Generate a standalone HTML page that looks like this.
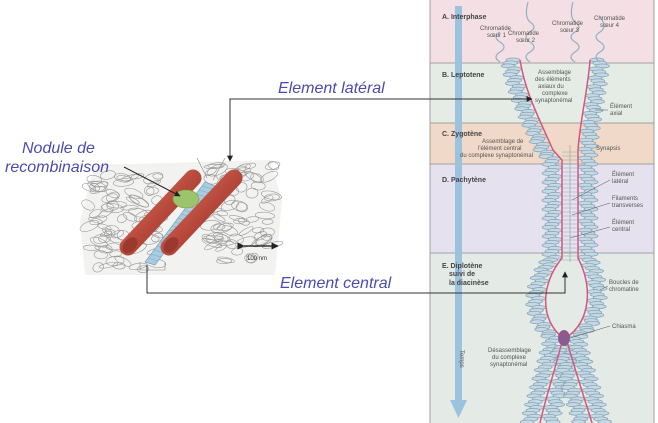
<!DOCTYPE html>
<html><head><meta charset="utf-8"><style>
html,body{margin:0;padding:0;background:#fff;}
svg{display:block;font-family:"Liberation Sans",sans-serif;}
.lb{font-style:italic;fill:#4b4bb0;font-size:16px;}
.s{fill:#555;font-size:6px;}
.h{fill:#444;font-size:7px;font-weight:bold;}
</style></head><body>
<svg id="sv" width="658" height="423" viewBox="0 0 658 423" xmlns="http://www.w3.org/2000/svg">
<defs>
<marker id="ar" viewBox="0 0 10 10" refX="9" refY="5" markerWidth="6" markerHeight="6" orient="auto"><path d="M0,0L10,5L0,10z" fill="#222"/></marker>
<linearGradient id="cyl" x1="0" y1="0" x2="1" y2="1"><stop offset="0" stop-color="#d87a68"/><stop offset="0.5" stop-color="#b84a3c"/><stop offset="1" stop-color="#8e3228"/></linearGradient>
</defs>
<rect x="430" y="0" width="224" height="63" fill="#f3dfe4"/>
<rect x="430" y="63" width="224" height="60" fill="#e5ece6"/>
<rect x="430" y="123" width="224" height="41" fill="#f0d9c8"/>
<rect x="430" y="164" width="224" height="89" fill="#e6e1ee"/>
<rect x="430" y="253" width="224" height="170" fill="#e4eae6"/>
<g stroke="#8c8c8c" stroke-width="0.8"><line x1="430" y1="63" x2="654" y2="63"/><line x1="430" y1="123" x2="654" y2="123"/><line x1="430" y1="164" x2="654" y2="164"/><line x1="430" y1="253" x2="654" y2="253"/><line x1="430" y1="0" x2="430" y2="423"/><line x1="654" y1="0" x2="654" y2="423"/></g>
<rect x="455" y="6" width="7" height="400" fill="#9cc3de"/>
<path d="M450,400L467,400L458.5,418z" fill="#9cc3de"/>
<text x="0" y="0" transform="translate(460,350) rotate(90)" class="s">Temps</text>
<g id="chrom" fill="#c6d8e2" stroke="#7fa3b8" stroke-width="0.7"></g>
<g fill="none">
<g stroke="#d9557a" stroke-width="1.5">
<path id="L" d="M520,60 C525,90 535,110 553,150 L562,160 L562,258 C540,285 540,320 563,338 C555,370 545,400 540,423"/>
<path id="R" d="M590,60 C588,90 580,120 578,150 L578,258 C592,285 592,320 566,338 C575,370 585,400 592,423"/>
</g>
<line x1="570" y1="145" x2="570" y2="262" stroke="#999" stroke-width="0.6"/>
</g>
<g stroke="#8aa" stroke-width="0.5" id="rungs"></g>
<ellipse cx="564" cy="338" rx="6" ry="8" fill="#8c5a8e"/>
<g fill="none" stroke="#8fb0c4" stroke-width="1.2">
<path d="M500,62 q-8,-5 0,-10 q8,-5 0,-10 q-8,-5 0,-10"/>
<path d="M530,62 q-8,-5 0,-10 q8,-5 0,-10 q-8,-5 0,-10 q8,-5 0,-10 q-6,-5 -2,-20"/>
<path d="M575,62 q-8,-5 0,-10 q8,-5 0,-10 q-8,-5 0,-10 q8,-5 0,-10 q-6,-5 -2,-20"/>
<path d="M600,62 q-8,-5 0,-10 q8,-5 0,-10 q-8,-5 0,-10 q8,-5 0,-15"/>
</g>
<text x="442" y="19" class="h">A. Interphase</text>
<text x="480" y="30" class="s">Chromatide</text><text x="487" y="37" class="s">sœur 1</text>
<text x="508" y="35" class="s">Chromatide</text><text x="516" y="42" class="s">sœur 2</text>
<text x="552" y="25" class="s">Chromatide</text><text x="560" y="32" class="s">sœur 3</text>
<text x="594" y="20" class="s">Chromatide</text><text x="600" y="27" class="s">sœur 4</text>
<text x="442" y="77" class="h">B. Leptotene</text>
<text x="538" y="74" class="s">Assemblage</text><text x="535" y="81" class="s">des éléments</text><text x="538" y="88" class="s">axiaux du</text><text x="542" y="95" class="s">complexe</text><text x="535" y="102" class="s">synaptonémal</text>
<text x="610" y="108" class="s">Élément</text><text x="610" y="115" class="s">axial</text>
<text x="442" y="136" class="h">C. Zygotène</text>
<text x="482" y="143" class="s">Assemblage de</text><text x="478" y="150" class="s">l'élément central</text><text x="460" y="157" class="s">du complexe synaptonémal</text>
<text x="596" y="150" class="s">Synapsis</text>
<text x="442" y="182" class="h">D. Pachytène</text>
<text x="612" y="176" class="s">Élément</text><text x="612" y="183" class="s">latéral</text>
<text x="612" y="200" class="s">Filaments</text><text x="612" y="207" class="s">transverses</text>
<text x="612" y="224" class="s">Élément</text><text x="612" y="231" class="s">central</text>
<text x="442" y="268" class="h">E. Diplotène</text><text x="449" y="276" class="h">suivi de</text><text x="449" y="285" class="h">la diacinèse</text>
<text x="609" y="284" class="s">Boucles de</text><text x="609" y="291" class="s">chromatine</text>
<text x="612" y="328" class="s">Chiasma</text>
<text x="488" y="352" class="s">Désassemblage</text><text x="492" y="359" class="s">du complexe</text><text x="490" y="366" class="s">synaptonémal</text>
<g stroke="#555" stroke-width="0.5"><line x1="572" y1="200" x2="610" y2="180"/><line x1="572" y1="215" x2="610" y2="203"/><line x1="570" y1="238" x2="610" y2="227"/><line x1="600" y1="290" x2="608" y2="286"/><line x1="570" y1="338" x2="610" y2="326"/><line x1="595" y1="110" x2="608" y2="110"/></g>
<path d="M95,165 L270,160 L282,200 L275,275 L85,275 L80,220z" fill="#f2f2f0"/>
<g id="loops" fill="none" stroke="#999" stroke-width="0.6"></g>
<path d="M145,262 L205,182 L215,186 L155,265z" fill="#a9cde0" stroke="#6f9ab4" stroke-width="0.6"/>
<g stroke="#6f9ab4" stroke-width="0.4" id="bars"></g>
<line x1="128" y1="247" x2="193" y2="178" stroke="url(#cyl)" stroke-width="17" stroke-linecap="round"/>
<ellipse cx="130" cy="245" rx="6" ry="9" fill="#9a3a2e" transform="rotate(40 130 245)"/>
<ellipse cx="186" cy="199" rx="13" ry="9" fill="#9cc46a" stroke="#7da24a" stroke-width="0.6"/>
<line x1="169" y1="247" x2="234" y2="178" stroke="url(#cyl)" stroke-width="17" stroke-linecap="round"/>
<ellipse cx="171" cy="245" rx="6" ry="9" fill="#9a3a2e" transform="rotate(40 171 245)"/>
<path d="M140,262 L140,270 L165,270 L165,262" fill="none" stroke="#888" stroke-width="0.6"/>
<g stroke="#888" stroke-width="0.6"><line x1="197" y1="158" x2="207" y2="178"/><line x1="225" y1="158" x2="213" y2="180"/></g>
<line x1="244" y1="246" x2="278" y2="246" stroke="#111" stroke-width="1.2" marker-end="url(#ar)" marker-start="url(#ar)"/>
<text x="247" y="260" style="font-size:6px;fill:#333">100 nm</text>
<text x="278" y="93" class="lb">Element latéral</text>
<path d="M230,160 L230,99 L530,99" fill="none" stroke="#333" stroke-width="1"/>
<path d="M530,99 L532,99" stroke="#333" marker-end="url(#ar)"/>
<path d="M230,150 L230,161" stroke="#333" marker-end="url(#ar)"/>
<text x="280" y="288" class="lb">Element central</text>
<path d="M147,265 L147,293 L565,293 L565,272" fill="none" stroke="#333" stroke-width="1" marker-end="url(#ar)"/>
<text x="22" y="153" class="lb">Nodule de</text>
<text x="5" y="172" class="lb">recombinaison</text>
<path d="M124,167 L180,196" stroke="#222" stroke-width="1" marker-end="url(#ar)"/>
</svg>
<script>
var ns="http://www.w3.org/2000/svg";
var r=document.getElementById('rungs');
for(var y=152;y<262;y+=4){var l=document.createElementNS(ns,'line');l.setAttribute('x1',562);l.setAttribute('x2',578);l.setAttribute('y1',y);l.setAttribute('y2',y);r.appendChild(l);}
var ch=document.getElementById('chrom');
[['L',-1],['R',1]].forEach(function(a){var p=document.getElementById(a[0]);var len=p.getTotalLength();
for(var d=0;d<len;d+=3){var pt=p.getPointAtLength(d);
for(var k=0;k<2;k++){var side=k?-a[1]:a[1];if(k&&pt.y<345)continue;
var off=side*(7+(d%9)*1.0);var e=document.createElementNS(ns,'ellipse');
e.setAttribute('cx',pt.x+off);e.setAttribute('cy',pt.y);e.setAttribute('rx',7);e.setAttribute('ry',2);ch.appendChild(e);}}});
var g=document.getElementById('loops');var s=7;
function rnd(){s=(s*9301+49297)%233280;return s/233280;}
for(var i=0;i<160;i++){var cx,cy;if(i%2){cx=88+rnd()*70;cy=175+rnd()*95;}else{cx=205+rnd()*70;cy=165+rnd()*100;}
var c=document.createElementNS(ns,'ellipse');c.setAttribute('cx',cx);c.setAttribute('cy',cy);c.setAttribute('rx',5+rnd()*6);c.setAttribute('ry',2+rnd()*3);c.setAttribute('transform','rotate('+(-30+rnd()*60)+' '+cx+' '+cy+')');g.appendChild(c);}
var b=document.getElementById('bars');
for(var t=0;t<1;t+=0.05){var x=145+60*t,y=262-80*t;var l=document.createElementNS(ns,'line');l.setAttribute('x1',x);l.setAttribute('y1',y);l.setAttribute('x2',x+10);l.setAttribute('y2',y+3);b.appendChild(l);}
</script>
</body></html>
